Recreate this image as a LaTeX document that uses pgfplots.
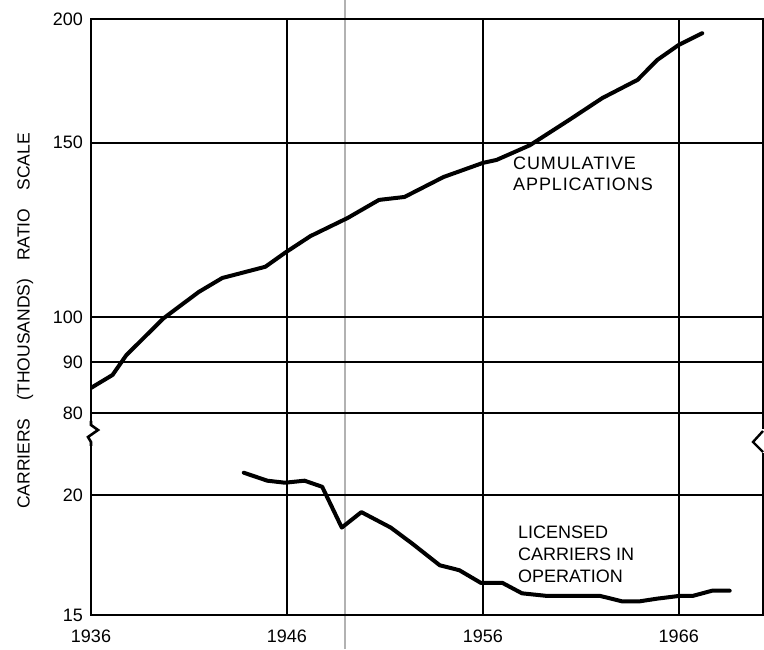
\documentclass[border=0pt]{standalone}
\usepackage{fontspec}
\setmainfont{Liberation Sans}
\usepackage{pgfplots}
\pgfplotsset{compat=1.18}
\pgfplotsset{
  myaxis/.style={
    scale only axis, width=672pt, xmin=1936, xmax=1970.3,
    grid=major,
    major grid style={line width=1.8pt, black},
    axis line style={line width=2.8pt, black},
    major tick length=0pt,
    xtick={1936,1946,1956,1966},
    ticklabel style={font=\fontsize{18}{20}\selectfont},
    yticklabel style={inner sep=0pt, xshift=-8pt},
    xticklabel style={inner sep=0pt, yshift=-15pt},
  }
}
\begin{document}
\begin{tikzpicture}
\draw[gray!60, line width=1.2pt] (254pt,-34pt) -- (254pt,615pt);
\begin{axis}[ymode=log, myaxis, at={(0pt,202pt)}, anchor=south west, height=394pt,
  ymin=80, ymax=200, ytick={80,90,100,150,200}, yticklabels={80,90,100,150,200},
  xticklabels={,,,}]
\addplot[line width=4pt, black, line join=round, line cap=round, mark=none] coordinates {
(1936.0,84.8) (1937.1,87.4) (1937.8,91.5) (1939.7,99.7) (1941.5,106.0)
(1942.7,109.5) (1944.9,112.4) (1945.9,116.1) (1947.2,120.7) (1949.1,125.9)
(1950.7,131.3) (1952.0,132.2) (1954.0,138.5) (1956.0,143.1) (1956.7,144.1)
(1958.4,149.1) (1960.4,158.1) (1962.1,166.4) (1963.9,173.6) (1964.9,181.8)
(1966.0,188.3) (1967.2,193.5)
};
\end{axis}
\begin{axis}[ymode=log, myaxis, at={(0pt,0pt)}, anchor=south west, height=202pt,
  ymin=15, ymax=24.35, ytick={15,20}, yticklabels={15,20},
  xticklabels={1936,1946,1956,1966}]
\addplot[line width=4pt, black, line join=round, line cap=round, mark=none] coordinates {
(1943.8,21.1) (1945.0,20.7) (1945.9,20.6) (1946.9,20.7) (1947.8,20.4)
(1948.8,18.5) (1949.8,19.2) (1951.3,18.5) (1952.4,17.8) (1953.8,16.9)
(1954.8,16.7) (1955.9,16.2) (1957.0,16.2) (1958.0,15.8) (1959.3,15.7)
(1961.1,15.7) (1962.0,15.7) (1963.1,15.5) (1964.0,15.5) (1964.9,15.6)
(1966.0,15.7) (1966.7,15.7) (1967.7,15.9) (1968.6,15.9)
};
\end{axis}
% axis break marks
\fill[white] (-3pt,170pt) rectangle (3pt,193pt);
\draw[line width=2.6pt, line join=miter] (0pt,194pt) -- (0pt,190pt) -- (7pt,185pt) -- (-3pt,178pt) -- (0pt,173pt) -- (0pt,169pt);
\fill[white] (669pt,162pt) rectangle (675pt,186pt);
\draw[line width=2.4pt] (672pt,184pt) -- (662pt,173pt) -- (672pt,163pt);
% labels
\node[anchor=north west, inner sep=0pt, align=left, font=\fontsize{18}{21}\selectfont\addfontfeature{LetterSpace=5}] at (422pt,458pt) {CUMULATIVE\\APPLICATIONS};
\node[anchor=north west, inner sep=0pt, align=left, font=\fontsize{18}{22}\selectfont] at (427pt,89pt) {LICENSED\\CARRIERS IN\\OPERATION};
\node[rotate=90, inner sep=0pt, font=\fontsize{17.5}{20}\selectfont] at (-66pt,294pt) {CARRIERS\hspace{18pt}(THOUSANDS)\hspace{18pt}RATIO\hspace{18pt}SCALE};
\pgfresetboundingbox
\useasboundingbox (-91pt,-34pt) rectangle (673pt,615pt);
\end{tikzpicture}
\end{document}
